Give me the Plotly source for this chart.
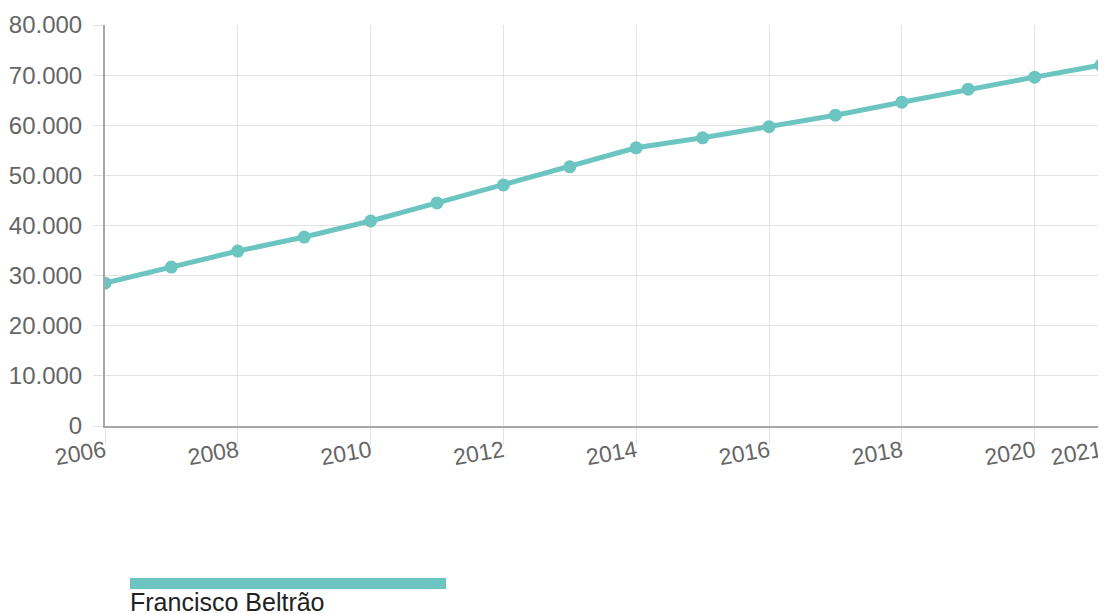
import plotly.graph_objects as go

years = list(range(2006, 2022))
values = [28500, 31700, 34900, 37700, 40900, 44500, 48100, 51700,
          55500, 57500, 59700, 62000, 64600, 67200, 69600, 72000]
x_ticks = [2006, 2008, 2010, 2012, 2014, 2016, 2018, 2020, 2021]
y_ticks = [0, 10000, 20000, 30000, 40000, 50000, 60000, 70000, 80000]
series_name = "Francisco Beltrão"

teal = "#6cc5c0"
font_family = "Arial, Liberation Sans, sans-serif"

fig = go.Figure()
fig.add_trace(go.Scatter(
    x=years, y=values, mode="lines+markers", name=series_name,
    line=dict(color=teal, width=5),
    marker=dict(color=teal, size=13),
    showlegend=False,
))

# the page body adds an 8px offset; the figure size and margins compensate for it
fig.update_layout(
    width=1098, height=606,
    margin=dict(l=97, r=5, t=17, b=188, autoexpand=False),
    paper_bgcolor="white", plot_bgcolor="white",
    separators=",.",
    font=dict(family=font_family, size=23, color="#666666"),
)
fig.update_xaxes(
    range=[2006, 2021], tickmode="array", tickvals=x_ticks,
    ticktext=[str(t) for t in x_ticks], tickangle=-10,
    showgrid=True, gridcolor="#e3e3e3", gridwidth=1,
    showline=True, linecolor="#a8a8a8", linewidth=2,
    ticks="outside", ticklen=17, tickcolor="#e3e3e3", tickwidth=1,
    ticklabelstandoff=-16,
    tickfont=dict(size=23, color="#666666"),
    zeroline=False, automargin=False,
)
fig.update_yaxes(
    range=[0, 80000], tickmode="array", tickvals=y_ticks,
    tickformat=",d",
    showgrid=True, gridcolor="#e3e3e3", gridwidth=1,
    showline=True, linecolor="#a8a8a8", linewidth=2,
    ticks="outside", ticklen=10, tickcolor="#e3e3e3", tickwidth=1,
    ticklabelstandoff=6,
    tickfont=dict(size=24, color="#666666"),
    zeroline=False, automargin=False,
)

# Legend drawn manually (bar + label below)
fig.add_shape(type="rect", xref="paper", yref="paper",
              x0=(130 - 105) / 996, x1=(446 - 105) / 996,
              y0=(426 - 589) / 401, y1=(426 - 578) / 401,
              fillcolor=teal, line=dict(width=0))
fig.add_annotation(xref="paper", yref="paper",
                   x=(128 - 105) / 996, y=(426 - 586) / 401,
                   xanchor="left", yanchor="top", showarrow=False,
                   text=series_name,
                   font=dict(family=font_family, size=25, color="#222222"))

fig.write_html("out.html")
